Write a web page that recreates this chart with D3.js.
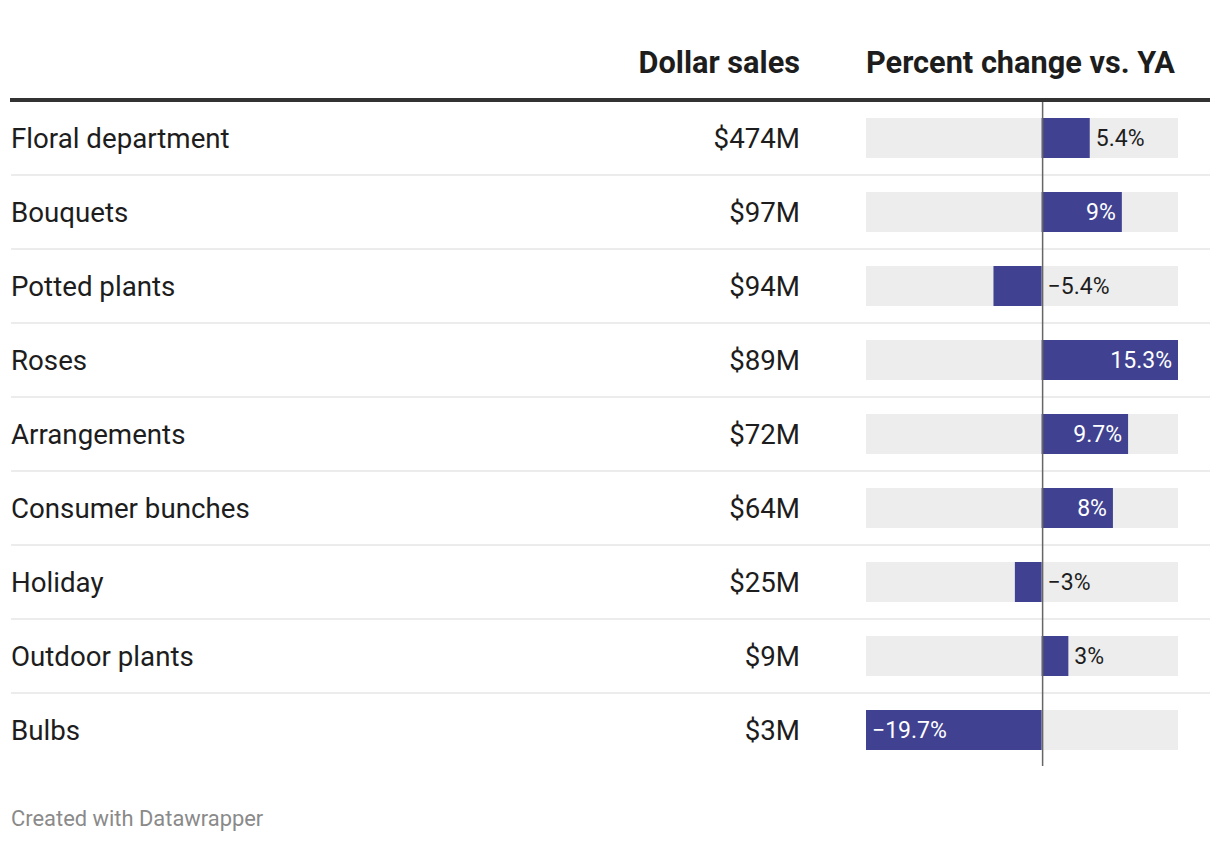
<!DOCTYPE html>
<html><head><meta charset="utf-8">
<script src="https://cdn.jsdelivr.net/npm/d3@7"></script>
<style>body{margin:0;background:#fff;font-family:Roboto,"Noto Sans",sans-serif}</style>
</head><body><svg id="c" width="1220" height="842"></svg>
<script>
const categories = ["Floral department","Bouquets","Potted plants","Roses","Arrangements","Consumer bunches","Holiday","Outdoor plants","Bulbs"];
const dollarSales = ["$474M","$97M","$94M","$89M","$72M","$64M","$25M","$9M","$3M"];
const pctChange = [5.4, 9, -5.4, 15.3, 9.7, 8, -3, 3, -19.7];
const headers = ["Dollar sales","Percent change vs. YA"];
const footer = "Created with Datawrapper";

const svg = d3.select("#c");
const font = "Roboto, 'Noto Sans', sans-serif";
const y = d3.scaleBand().domain(categories).range([101, 767]).paddingInner(0).paddingOuter(0);
const x = d3.scaleLinear().domain([d3.min(pctChange), d3.max(pctChange)]).range([866, 1178]);
const barH = 40;

// headers
svg.append("text").attr("x", 800).attr("y", 73).attr("text-anchor","end")
  .attr("font-family", font).attr("font-weight", 700).attr("font-size", 30.7).attr("fill","#1d1d1d").text(headers[0]);
svg.append("text").attr("x", 866).attr("y", 73).attr("text-anchor","start")
  .attr("font-family", font).attr("font-weight", 700).attr("font-size", 30.7).attr("fill","#1d1d1d").text(headers[1]);

// row separators
svg.selectAll("line.sep").data(categories.slice(1)).join("line").attr("class","sep")
  .attr("x1", 11).attr("x2", 1210)
  .attr("y1", d => y(d)).attr("y2", d => y(d))
  .attr("stroke", "#ececec").attr("stroke-width", 2);

const rows = svg.selectAll("g.row").data(categories).join("g").attr("class","row")
  .attr("transform", d => `translate(0,${y(d) + y.bandwidth()/2})`);

rows.append("text").attr("x", 11).attr("dy", "0.35em")
  .attr("font-family", font).attr("font-size", 27.7).attr("fill","#1d1d1d").text(d => d);
rows.append("text").attr("x", 800).attr("dy", "0.35em").attr("text-anchor","end")
  .attr("font-family", font).attr("font-size", 27.7).attr("fill","#1d1d1d").text((d,i) => dollarSales[i]);

rows.append("rect").attr("x", x.range()[0]).attr("y", -barH/2)
  .attr("width", x.range()[1] - x.range()[0]).attr("height", barH).attr("fill", "#ededed");
rows.append("rect")
  .attr("x", (d,i) => x(Math.min(0, pctChange[i])))
  .attr("y", -barH/2)
  .attr("width", (d,i) => Math.abs(x(pctChange[i]) - x(0)))
  .attr("height", barH).attr("fill", "#404291");

const fmt = v => (v < 0 ? "\u2212" : "") + Math.abs(v) + "%";
rows.each(function(d,i){
  const g = d3.select(this);
  const v = pctChange[i];
  const t = g.append("text").attr("dy","0.35em").attr("font-family", font).attr("font-size", 23).text(fmt(v));
  const w = t.node().getComputedTextLength();
  const bw = Math.abs(x(v) - x(0));
  const pad = 6;
  if (bw > w + 2*pad) {
    t.attr("fill","#fff");
    if (v >= 0) t.attr("x", x(v) - pad).attr("text-anchor","end");
    else t.attr("x", x(v) + pad).attr("text-anchor","start");
  } else {
    t.attr("fill","#1d1d1d").attr("text-anchor","start");
    if (v >= 0) t.attr("x", x(v) + pad);
    else t.attr("x", x(0) + pad);
  }
});

// zero line
svg.append("line").attr("x1", x(0) + 1).attr("x2", x(0) + 1).attr("y1", 101).attr("y2", 766)
  .attr("stroke", "#666").attr("stroke-width", 1.5);

// header rule
svg.append("line").attr("x1", 10).attr("x2", 1210).attr("y1", 100).attr("y2", 100)
  .attr("stroke", "#333").attr("stroke-width", 4);

svg.append("text").attr("x", 11).attr("y", 826).attr("font-family", font).attr("font-size", 21.9)
  .attr("fill", "#8a8a8a").text(footer);
</script></body></html>
